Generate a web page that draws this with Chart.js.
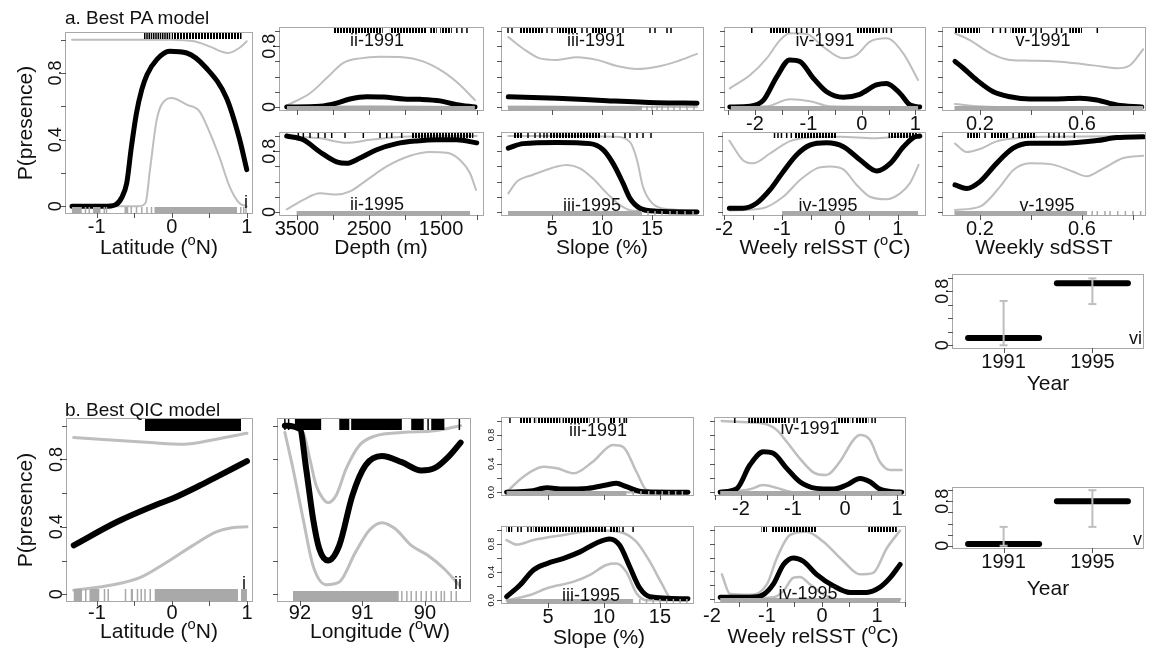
<!DOCTYPE html>
<html>
<head>
<meta charset="utf-8">
<script src="https://cdn.jsdelivr.net/npm/chart.js@4.4.1/dist/chart.umd.min.js"></script>
<style>
  body { margin: 0; background: #fff; }
  #page { position: relative; width: 1154px; height: 651px; overflow: hidden;
          font-family: "Liberation Sans", Arial, sans-serif; }
  canvas { position: absolute; }
  .txt { position: absolute; white-space: nowrap; color: #111; line-height: 1; }
  .sup { font-size: 0.7em; position: relative; top: -0.6em; }
</style>
</head>
<body>
<div id="page"></div>
<script>
// ---- axis ticks / labels ----
const latTicks = [-1, -0.5, 0, 0.5, 1];
const latLabels = [-1, 0, 1];
const depthTicks = [3500, 3000, 2500, 2000, 1500, 1000];
const depthLabels = [3500, 2500, 1500];
const slopeTicks = [5, 10, 15];
const slopeLabels = [5, 10, 15];
const relTicks = [-2.5, -2, -1.5, -1, -0.5, 0, 0.5, 1, 1.5];
const relLabels = [-2, -1, 0, 1];
const sdTicks = [0.2, 0.4, 0.6, 0.8];
const sdLabels = [0.2, 0.6];
const lonTicks = [92, 91, 90];
const lonLabels = [92, 91, 90];
const yearLabels = ['1991', '1995'];
const probTicks = [0, 0.2, 0.4, 0.6, 0.8, 1];
const probLabels = [0, 0.4, 0.8];
const probLabelsShort = [0, 0.8];

// ---- a. best PA model: [x, P(presence)] ----
const paLatFit = [[-1.33,0],[-0.9,0],[-0.75,0.01],[-0.67,0.05],[-0.6,0.14],[-0.54,0.35],[-0.47,0.56],[-0.4,0.7],[-0.33,0.79],[-0.2,0.88],[-0.03,0.93],[0.2,0.92],[0.46,0.83],[0.73,0.65],[0.9,0.41],[1.0,0.22]];
const paLatUpper = [[-1.33,1.0],[-0.5,1.0],[0.0,1.0],[0.3,0.99],[0.5,0.96],[0.75,0.92],[0.9,0.95],[1.0,0.99]];
const paLatLower = [[-1.33,0],[-0.45,0],[-0.35,0.02],[-0.29,0.22],[-0.2,0.52],[-0.08,0.64],[0.0,0.65],[0.2,0.61],[0.37,0.57],[0.5,0.45],[0.64,0.29],[0.77,0.12],[0.9,0.02],[1.0,0]];
const paLatRugTop = [-0.36,-0.33,-0.3,-0.27,-0.24,-0.21,-0.18,-0.15,-0.12,-0.09,-0.06,-0.03,[0.0,0.93]];
const paLatRugBottom = [[-1.33,-1.2],-1.15,-1.1,[-1.05,-0.95],-0.9,-0.87,[-0.63,-0.58],-0.54,-0.47,-0.4,-0.33,-0.27,[-0.23,0.87],0.92,0.96,0.99];

const paDepth91Fit = [[3643,0],[3180,0.01],[2950,0.05],[2764,0.105],[2532,0.135],[2300,0.13],[2020,0.105],[1790,0.1],[1514,0.08],[1282,0.03],[1028,0]];
const paDepth91Upper = [[3643,0.02],[3320,0.18],[3088,0.38],[2857,0.58],[2625,0.64],[2347,0.66],[2030,0.655],[1750,0.6],[1472,0.465],[1236,0.29],[1028,0.09]];
const paDepth91Lower = [[3643,0],[2500,0.01],[1028,0]];
const paDepth91RugTop = [[3000,2310],[2210,1700],[1650,1560],[1510,1350],1280,1210,1140];
const paDepth91RugBottom = [[3640,1030]];

const paDepth95Fit = [[3643,1.0],[3412,0.95],[3180,0.79],[2950,0.66],[2810,0.64],[2625,0.71],[2393,0.82],[2116,0.9],[1838,0.935],[1560,0.95],[1282,0.95],[1004,0.91]];
const paDepth95Upper = [[3643,1.0],[3180,0.97],[2810,0.91],[2486,0.95],[2030,0.99],[1500,1.0],[1004,1.0]];
const paDepth95Lower = [[3643,0.035],[3412,0.16],[3180,0.245],[2950,0.23],[2764,0.27],[2532,0.42],[2254,0.6],[1930,0.74],[1653,0.79],[1421,0.78],[1236,0.685],[1097,0.51],[1014,0.29]];
const paDepth95RugTop = [3482,3412,3319,3204,3111,3018,2833,2579,2347,2254,2185,2046,[1907,1051]];
const paDepth95RugBottom = [[3505,1097]];

const paSlope91Fit = [[0.63,0.135],[5.5,0.115],[10.5,0.083],[15.5,0.057],[19.5,0.05]];
const paSlope91Upper = [[0.63,0.92],[2.1,0.77],[3.8,0.64],[5.5,0.62],[7.5,0.655],[9.5,0.62],[11.5,0.54],[13.5,0.5],[15.5,0.53],[17.5,0.6],[19.5,0.7]];
const paSlope91Lower = [[0.63,0.005],[19.5,0]];
const paSlope91RugTop = [0.6,1.0,[1.8,4.1],4.5,5.0,[5.5,7.5],8.0,8.5,[9.0,10.5],11.0,11.6,12.1,14.8,15.3,16.5,16.9];
const paSlope91RugBottom = [[0.6,14.0],14.5,15.0,15.5,16.0,16.6,17.2,17.8,18.5,19.2];

const paSlope95Fit = [[0.63,0.84],[2.1,0.9],[5.5,0.915],[8.8,0.9],[10.1,0.82],[11.1,0.64],[12.1,0.38],[12.8,0.18],[13.8,0.05],[15.5,0.01],[19.5,0]];
const paSlope95Upper = [[0.63,1.0],[6.0,1.0],[11.3,0.99],[12.8,0.92],[13.5,0.685],[14.1,0.33],[15.1,0.105],[16.8,0.035],[19.5,0.02]];
const paSlope95Lower = [[0.63,0.245],[1.5,0.4],[3.1,0.49],[5.5,0.6],[6.5,0.62],[7.8,0.575],[9.1,0.44],[10.5,0.245],[11.8,0.09],[13.1,0.015],[19.5,0]];
const paSlope95RugTop = [[1.1,2.1],2.6,3.3,3.8,4.2,4.5,[4.8,9.8],10.3,11.1,12.3,12.8,13.5,14.1,14.9];
const paSlope95RugBottom = [[0.6,14.0],14.6,15.3,16.0,16.8,17.5,18.3,19.1];

const paRel91Fit = [[-2.47,0],[-2.09,0.01],[-1.84,0.09],[-1.59,0.4],[-1.35,0.62],[-1.16,0.6],[-0.91,0.38],[-0.66,0.2],[-0.35,0.128],[-0.04,0.167],[0.27,0.29],[0.46,0.31],[0.71,0.18],[0.9,0.026],[1.08,0]];
const paRel91Upper = [[-2.47,0.245],[-2.09,0.42],[-1.78,0.64],[-1.53,0.88],[-1.35,0.97],[-1.03,0.96],[-0.72,0.79],[-0.35,0.64],[-0.1,0.685],[0.15,0.86],[0.46,0.905],[0.77,0.71],[1.05,0.356]];
const paRel91Lower = [[-2.47,0],[-1.78,0.01],[-1.35,0.1],[-0.97,0.075],[-0.6,0.01],[1.08,0]];
const paRel91RugTop = [-2.06,[-1.72,-1.35],-1.22,-1.13,-1.03,-0.91,-0.8,[-0.1,0.34],0.4,0.46,0.55];
const paRel91RugBottom = [[-2.45,1.05]];

const paRel95Fit = [[-1.91,0.05],[-1.68,0.05],[-1.44,0.115],[-1.21,0.29],[-0.98,0.53],[-0.75,0.75],[-0.52,0.88],[-0.23,0.91],[0.06,0.86],[0.35,0.685],[0.64,0.54],[0.87,0.64],[1.1,0.86],[1.27,0.98],[1.38,1.0]];
const paRel95Upper = [[-1.91,0.94],[-1.68,0.685],[-1.5,0.64],[-1.21,0.77],[-0.87,0.93],[-0.52,0.98],[0.0,0.99],[0.6,0.97],[1.0,0.99],[1.38,1.0]];
const paRel95Lower = [[-1.91,0.02],[-1.33,0.05],[-0.98,0.2],[-0.69,0.42],[-0.4,0.575],[-0.17,0.6],[0.06,0.56],[0.29,0.356],[0.52,0.2],[0.81,0.167],[1.04,0.245],[1.21,0.38],[1.36,0.62]];
const paRel95RugTop = [-1.13,-1.07,-1.01,-0.92,-0.84,[-0.78,-0.06],[0.84,1.33]];
const paRel95RugBottom = [[-1.0,1.35]];

const paSd91Fit = [[0.102,0.6],[0.135,0.51],[0.187,0.355],[0.252,0.2],[0.318,0.135],[0.396,0.105],[0.5,0.105],[0.592,0.115],[0.658,0.092],[0.736,0.026],[0.834,0]];
const paSd91Upper = [[0.102,0.97],[0.16,0.88],[0.24,0.71],[0.318,0.62],[0.396,0.61],[0.5,0.6],[0.592,0.57],[0.684,0.53],[0.736,0.51],[0.788,0.55],[0.84,0.76]];
const paSd91Lower = [[0.102,0.04],[0.187,0.01],[0.3,0],[0.84,0]];
const paSd91RugTop = [[0.1,0.2],0.25,0.28,0.3,[0.32,0.38],0.4,0.42,0.44,0.5,0.52,[0.55,0.6],0.66];
const paSd91RugBottom = [[0.1,0.84]];

const paSd95Fit = [[0.102,0.356],[0.148,0.31],[0.2,0.4],[0.265,0.64],[0.33,0.84],[0.396,0.905],[0.527,0.905],[0.658,0.94],[0.736,0.98],[0.84,0.99]];
const paSd95Upper = [[0.102,0.9],[0.148,0.79],[0.2,0.83],[0.265,0.93],[0.34,0.97],[0.45,0.99],[0.84,1.0]];
const paSd95Lower = [[0.102,0.026],[0.2,0.07],[0.278,0.33],[0.33,0.55],[0.396,0.64],[0.475,0.63],[0.566,0.53],[0.618,0.47],[0.684,0.575],[0.762,0.71],[0.84,0.74]];
const paSd95RugTop = [[0.15,0.2],0.22,[0.24,0.31],0.33,[0.35,0.42],0.47,0.49,0.51,0.53,0.57];
const paSd95RugBottom = [[0.1,0.62],0.64,0.66,0.69,0.71,0.74,0.77,0.8,0.83];

const paYearFit = [0.107, 0.918];
const paYearLow = [0.0, 0.61];
const paYearHigh = [0.656, 0.99];

// ---- b. best QIC model ----
const qLatFit = [[-1.31,0.29],[-0.73,0.43],[-0.16,0.54],[0.0,0.567],[0.37,0.645],[0.59,0.695],[1.0,0.79]];
const qLatUpper = [[-1.31,0.93],[-0.29,0.9],[0.15,0.89],[0.59,0.92],[1.0,0.955]];
const qLatLower = [[-1.31,0.024],[-0.82,0.053],[-0.42,0.1],[-0.07,0.19],[0.28,0.29],[0.59,0.37],[0.8,0.395],[1.0,0.4]];
const qLatRugTop = [[-0.36,0.92]];
const qLatRugBottom = [[-1.31,-1.2],-1.15,[-1.1,-0.97],-0.9,-0.85,-0.62,[-0.55,-0.52],-0.46,-0.41,-0.36,-0.29,[-0.23,0.88],[0.92,1.0]];

const qLonFit = [[92.24,1.0],[92.0,0.98],[91.9,0.745],[91.79,0.45],[91.69,0.27],[91.55,0.2],[91.37,0.29],[91.16,0.587],[90.95,0.765],[90.69,0.82],[90.37,0.784],[90.06,0.735],[89.84,0.75],[89.63,0.814],[89.43,0.9]];
const qLonUpper = [[92.24,1.0],[91.95,0.96],[91.84,0.8],[91.74,0.645],[91.63,0.567],[91.55,0.543],[91.42,0.587],[91.26,0.745],[91.05,0.883],[90.79,0.94],[90.37,0.96],[89.84,0.97],[89.43,1.0]];
const qLonLower = [[92.24,0.96],[92.11,0.745],[91.95,0.45],[91.79,0.17],[91.58,0.057],[91.37,0.073],[91.11,0.25],[90.89,0.38],[90.69,0.425],[90.48,0.39],[90.22,0.29],[89.95,0.23],[89.69,0.15],[89.45,0.053]];
const qLonRugTop = [92.24,92.18,[92.08,91.66],[91.37,91.21],[91.18,90.37],[90.22,90.02],89.95,[89.9,89.69],89.45];
const qLonRugBottom = [[92.11,90.42],90.37,90.29,90.22,90.14,90.06,89.98,89.9,89.82,89.74,89.69,89.58,89.5];

const qSlope91Fit = [[1.3,0],[3.4,0.015],[4.9,0.06],[6.4,0.045],[8.5,0.053],[10.2,0.1],[11.1,0.125],[12.0,0.076],[13.5,0.006],[17.5,0]];
const qSlope91Upper = [[1.3,0],[2.8,0.216],[4.6,0.356],[5.8,0.334],[7.3,0.264],[9.0,0.427],[10.8,0.66],[11.7,0.636],[12.9,0.286],[13.8,0.03],[15.1,0],[17.5,0]];
const qSlope91Lower = [[1.3,0],[17.5,0]];
const qSlope91RugTop = [1.6,[2.5,3.5],3.8,[4.0,6.1],[6.3,8.7],9.1,9.5,[10.5,11.0],11.4,11.8,12.0];
const qSlope91RugBottom = [[1.3,12.0],12.6,13.3,14.0,14.6,15.2,15.8,16.4,17.0];

const qSlope95Fit = [[1.3,0.05],[2.5,0.216],[3.7,0.43],[4.9,0.52],[6.4,0.594],[7.9,0.69],[9.3,0.81],[10.5,0.87],[11.4,0.78],[12.3,0.475],[13.2,0.17],[14.1,0.05],[17.5,0.02]];
const qSlope95Upper = [[1.3,0.855],[2.2,0.79],[3.7,0.855],[6.4,0.926],[9.3,0.99],[11.4,0.97],[12.9,0.83],[14.1,0.547],[15.15,0.24],[16.0,0.03],[17.5,0.02]];
const qSlope95Lower = [[1.3,0],[3.4,0.074],[4.9,0.17],[7.3,0.263],[8.75,0.36],[10.2,0.5],[11.1,0.52],[12.0,0.4],[12.9,0.1],[13.8,0],[17.5,0]];
const qSlope95RugTop = [[1.3,1.8],2.3,2.6,3.2,3.5,[3.7,10.2],[10.5,11.4],11.7,12.6];
const qSlope95RugBottom = [[1.3,12.6],13.2,13.8,14.4,15.0,15.6,16.2,16.8,17.4];

const qRel91Fit = [[-2.4,0],[-2.08,0.05],[-1.83,0.38],[-1.57,0.566],[-1.38,0.545],[-1.12,0.334],[-0.87,0.146],[-0.55,0.053],[-0.22,0.043],[0.03,0.1],[0.29,0.193],[0.48,0.146],[0.67,0.043],[0.93,0.006],[1.09,0]];
const qRel91Upper = [[-2.37,0.997],[-1.83,0.98],[-1.5,0.95],[-1.31,0.87],[-1.12,0.707],[-0.87,0.474],[-0.61,0.278],[-0.36,0.24],[-0.1,0.426],[0.16,0.73],[0.29,0.8],[0.48,0.73],[0.67,0.426],[0.87,0.31],[1.09,0.31]];
const qRel91Lower = [[-2.4,0],[-1.83,0.04],[-1.57,0.1],[-1.31,0.06],[-1.0,0],[1.09,0]];
const qRel91RugTop = [-2.12,[-1.86,-1.12],-1.08,-0.98,-0.92,[-0.16,0.1],0.15,[0.2,0.45],0.52,0.58];
const qRel91RugBottom = [[-2.4,1.09]];

const qRel95Fit = [[-1.85,0.027],[-1.31,0.027],[-1.07,0.064],[-0.885,0.216],[-0.7,0.5],[-0.52,0.595],[-0.34,0.547],[-0.1,0.358],[0.21,0.192],[0.51,0.098],[0.81,0.098],[1.05,0.17],[1.24,0.31],[1.42,0.5]];
const qRel95Upper = [[-1.82,0.358],[-1.67,0.074],[-1.31,0.064],[-1.0,0.216],[-0.82,0.595],[-0.58,0.926],[-0.28,0.973],[0.02,0.83],[0.39,0.547],[0.69,0.358],[0.93,0.38],[1.18,0.737],[1.42,0.99]];
const qRel95Lower = [[-1.85,0],[-0.885,0.027],[-0.7,0.12],[-0.52,0.31],[-0.4,0.32],[-0.22,0.216],[0.02,0.07],[0.3,0],[1.42,0]];
const qRel95RugTop = [[-1.1,-1.0],[-0.92,-0.1],[0.84,1.36]];
const qRel95RugBottom = [[-1.85,1.42]];

const qYearFit = [0.03, 0.8];
const qYearLow = [0.0, 0.34];
const qYearHigh = [0.34, 1.0];

// ---- drawing ----
const GREY = '#bebebe';
const RUG_GREY = '#a9a9a9';
const FONT = '"Liberation Sans", Arial, sans-serif';
const BAR_HALF = 0.4;
const page = document.getElementById('page');

const pairs = arr => arr.map(v => [v, String(v)]);
const yearPairs = yearLabels.map((t, i) => [i + 1, t]);

// hatched fill for dense presence rugs
const hatchCanvas = document.createElement('canvas');
hatchCanvas.width = 3; hatchCanvas.height = 1;
hatchCanvas.getContext('2d').fillRect(0, 0, 2, 1);

function drawRug(ctx, scale, marks, edge, len, dir, color, hatch) {
  ctx.save();
  ctx.strokeStyle = color;
  ctx.fillStyle = hatch ? ctx.createPattern(hatchCanvas, 'repeat') : color;
  ctx.lineWidth = 1.5;
  marks.forEach(m => {
    if (Array.isArray(m)) {
      const x0 = scale.getPixelForValue(m[0]);
      const x1 = scale.getPixelForValue(m[1]);
      ctx.fillRect(Math.min(x0, x1), dir > 0 ? edge : edge - len, Math.abs(x1 - x0), len);
    } else {
      const px = scale.getPixelForValue(m);
      ctx.beginPath();
      ctx.moveTo(px, edge);
      ctx.lineTo(px, edge + dir * len);
      ctx.stroke();
    }
  });
  ctx.restore();
}

function panelPlugin(p) {
  return {
    id: 'rPanel',
    afterDatasetsDraw(chart) {
      if (!p.rug) return;
      const { ctx, chartArea: a, scales: { x } } = chart;
      drawRug(ctx, x, p.rug[0], a.top, p.rugLen[0], 1, '#000', p.hatch);
      drawRug(ctx, x, p.rug[1], a.bottom, p.rugLen[1], -1, RUG_GREY, false);
    },
    afterDraw(chart) {
      const { ctx, chartArea: a, scales: { x, y } } = chart;
      ctx.save();
      ctx.strokeStyle = '#a8a8a8';
      ctx.lineWidth = 1;
      ctx.strokeRect(a.left - 0.5, a.top - 0.5, a.right - a.left + 1, a.bottom - a.top + 1);

      ctx.strokeStyle = '#555';
      ctx.beginPath();
      p.xTicks.forEach(v => {
        const px = Math.round(x.getPixelForValue(v)) + 0.5;
        if (px < a.left - 1 || px > a.right + 1) return;
        ctx.moveTo(px, a.bottom);
        ctx.lineTo(px, a.bottom + 5);
      });
      probTicks.forEach(v => {
        const py = Math.round(y.getPixelForValue(v)) + 0.5;
        ctx.moveTo(a.left, py);
        ctx.lineTo(a.left - 5, py);
      });
      ctx.stroke();

      ctx.fillStyle = '#111';
      ctx.textAlign = 'center';
      ctx.textBaseline = 'middle';
      ctx.font = `20px ${FONT}`;
      (p.xLabels || []).forEach(([v, t]) => ctx.fillText(t, x.getPixelForValue(v), a.bottom + (p.xGap || 14)));

      ctx.font = `${p.yFont || 18}px ${FONT}`;
      ctx.textBaseline = 'alphabetic';
      (p.yLabels || []).forEach(([v, t]) => {
        ctx.save();
        ctx.translate(a.left - (p.yGap || 5), y.getPixelForValue(v));
        ctx.rotate(-Math.PI / 2);
        ctx.fillText(t, 0, 0);
        ctx.restore();
      });
      ctx.restore();
    }
  };
}

function lineSet(pts, color, width) {
  return {
    data: pts.map(([x, y]) => ({ x, y })),
    showLine: true, borderColor: color, borderWidth: width, pointRadius: 0,
    cubicInterpolationMode: 'monotone', borderCapStyle: 'round', borderJoinStyle: 'round', clip: false
  };
}

// first dataset is painted last, so the fitted curve goes first
function curveSets([fit, upper, lower], [wFit, wCi]) {
  return [lineSet(fit, '#000', wFit), lineSet(upper, GREY, wCi), lineSet(lower, GREY, wCi)];
}

function yearSets([fit, low, high]) {
  const errs = fit.map((v, i) => ({
    data: [{ x: i + 1, y: low[i] }, { x: i + 1, y: high[i] }],
    showLine: true, borderColor: GREY, borderWidth: 2,
    pointStyle: 'line', pointRadius: 4, pointBorderColor: GREY, pointBorderWidth: 2, clip: false
  }));
  const bars = fit.map((v, i) => ({
    data: [{ x: i + 1 - BAR_HALF, y: v }, { x: i + 1 + BAR_HALF, y: v }],
    showLine: true, borderColor: '#000', borderWidth: 6, borderCapStyle: 'round', pointRadius: 0, clip: false
  }));
  return errs.concat(bars);
}

function makePanel(p) {
  const [l, t, r, b] = p.box;
  const pad = { left: 60, top: 14, right: 14, bottom: 44 };
  const w = r - l + pad.left + pad.right;
  const h = b - t + pad.top + pad.bottom;
  const c = document.createElement('canvas');
  c.width = w; c.height = h;
  c.style.left = (l - pad.left) + 'px';
  c.style.top = (t - pad.top) + 'px';
  c.style.width = w + 'px';
  c.style.height = h + 'px';
  page.appendChild(c);
  new Chart(c, {
    type: 'scatter',
    data: { datasets: p.year ? yearSets(p.year) : curveSets(p.curves, p.widths) },
    options: {
      responsive: false,
      animation: false,
      events: [],
      layout: { padding: pad, autoPadding: false },
      plugins: { legend: { display: false }, tooltip: { enabled: false } },
      scales: {
        x: { type: 'linear', display: false, min: p.x[0], max: p.x[1], reverse: !!p.reverse },
        y: { type: 'linear', display: false, min: -0.04, max: 1.04 }
      }
    },
    plugins: [panelPlugin(p)]
  });
}

const panels = [
  { box: [66, 33, 252, 213], x: [-1.41, 1.07], xTicks: latTicks, xLabels: pairs(latLabels), yLabels: pairs(probLabels),
    curves: [paLatFit, paLatUpper, paLatLower], widths: [5, 2], rug: [paLatRugTop, paLatRugBottom], rugLen: [6, 6], hatch: true },
  { box: [280, 28, 483, 110], x: [917, 3736], reverse: true, xTicks: depthTicks, yLabels: pairs(probLabelsShort),
    curves: [paDepth91Fit, paDepth91Upper, paDepth91Lower], widths: [5, 2], rug: [paDepth91RugTop, paDepth91RugBottom], rugLen: [5, 4], hatch: true },
  { box: [280, 133, 483, 215], x: [917, 3736], reverse: true, xTicks: depthTicks, xLabels: pairs(depthLabels), yLabels: pairs(probLabelsShort),
    curves: [paDepth95Fit, paDepth95Upper, paDepth95Lower], widths: [5, 2], rug: [paDepth95RugTop, paDepth95RugBottom], rugLen: [5, 4], hatch: true },
  { box: [502, 28, 703, 110], x: [0, 20.1], xTicks: slopeTicks,
    curves: [paSlope91Fit, paSlope91Upper, paSlope91Lower], widths: [5, 2], rug: [paSlope91RugTop, paSlope91RugBottom], rugLen: [5, 4], hatch: true },
  { box: [502, 133, 703, 215], x: [0, 20.1], xTicks: slopeTicks, xLabels: pairs(slopeLabels),
    curves: [paSlope95Fit, paSlope95Upper, paSlope95Lower], widths: [5, 2], rug: [paSlope95RugTop, paSlope95RugBottom], rugLen: [5, 4], hatch: true },
  { box: [725, 28, 925, 110], x: [-2.56, 1.18], xTicks: relTicks, xLabels: pairs(relLabels),
    curves: [paRel91Fit, paRel91Upper, paRel91Lower], widths: [5, 2], rug: [paRel91RugTop, paRel91RugBottom], rugLen: [5, 4], hatch: true },
  { box: [723, 133, 925, 215], x: [-2.02, 1.47], xTicks: relTicks, xLabels: pairs(relLabels),
    curves: [paRel95Fit, paRel95Upper, paRel95Lower], widths: [5, 2], rug: [paRel95RugTop, paRel95RugBottom], rugLen: [5, 4], hatch: true },
  { box: [943, 28, 1145, 110], x: [0.055, 0.847], xTicks: sdTicks, xLabels: pairs(sdLabels),
    curves: [paSd91Fit, paSd91Upper, paSd91Lower], widths: [5, 2], rug: [paSd91RugTop, paSd91RugBottom], rugLen: [5, 4], hatch: true },
  { box: [943, 133, 1145, 215], x: [0.055, 0.847], xTicks: sdTicks, xLabels: pairs(sdLabels),
    curves: [paSd95Fit, paSd95Upper, paSd95Lower], widths: [5, 2], rug: [paSd95RugTop, paSd95RugBottom], rugLen: [5, 4], hatch: true },
  { box: [953, 275, 1143, 348], x: [0.43, 2.57], xTicks: [1, 2], xLabels: yearPairs, yLabels: pairs(probLabelsShort),
    year: [paYearFit, paYearLow, paYearHigh] },

  { box: [67, 419, 252, 601], x: [-1.4, 1.067], xTicks: latTicks, xLabels: pairs(latLabels), yLabels: pairs(probLabels), xGap: 12,
    curves: [qLatFit, qLatUpper, qLatLower], widths: [6, 3], rug: [qLatRugTop, qLatRugBottom], rugLen: [12, 12] },
  { box: [278, 419, 470, 601], x: [89.28, 92.35], reverse: true, xTicks: lonTicks, xLabels: pairs(lonLabels), xGap: 12,
    curves: [qLonFit, qLonUpper, qLonLower], widths: [6, 3], rug: [qLonRugTop, qLonRugBottom], rugLen: [11, 10] },
  { box: [502, 418, 693, 495], x: [0.89, 17.95], xTicks: slopeTicks, yLabels: probLabels.map(v => [v, v.toFixed(1)]), yFont: 9, yGap: 8,
    curves: [qSlope91Fit, qSlope91Upper, qSlope91Lower], widths: [5, 2.5], rug: [qSlope91RugTop, qSlope91RugBottom], rugLen: [5, 4], hatch: true },
  { box: [502, 527, 693, 603], x: [0.89, 17.95], xTicks: slopeTicks, xLabels: pairs(slopeLabels), yLabels: probLabels.map(v => [v, v.toFixed(1)]), yFont: 9, yGap: 8,
    curves: [qSlope95Fit, qSlope95Upper, qSlope95Lower], widths: [5, 2.5], rug: [qSlope95RugTop, qSlope95RugBottom], rugLen: [5, 4], hatch: true },
  { box: [715, 418, 905, 495], x: [-2.5, 1.154], xTicks: relTicks, xLabels: pairs(relLabels),
    curves: [qRel91Fit, qRel91Upper, qRel91Lower], widths: [5, 2.5], rug: [qRel91RugTop, qRel91RugBottom], rugLen: [5, 4], hatch: true },
  { box: [715, 527, 905, 602], x: [-1.945, 1.509], xTicks: relTicks, xLabels: pairs(relLabels),
    curves: [qRel95Fit, qRel95Upper, qRel95Lower], widths: [5, 2.5], rug: [qRel95RugTop, qRel95RugBottom], rugLen: [5, 4], hatch: true },
  { box: [953, 488, 1143, 548], x: [0.43, 2.57], xTicks: [1, 2], xLabels: yearPairs, yLabels: pairs(probLabelsShort),
    year: [qYearFit, qYearLow, qYearHigh] }
];

panels.forEach(makePanel);

// ---- titles, axis titles and panel tags ----
function label(html, x, y, size, align = 'center', rotate = 0) {
  const d = document.createElement('div');
  d.className = 'txt';
  d.innerHTML = html;
  d.style.left = x + 'px';
  d.style.top = y + 'px';
  d.style.fontSize = size + 'px';
  const tx = align === 'left' ? '0' : align === 'right' ? '-100%' : '-50%';
  d.style.transform = `translate(${tx}, -50%)` + (rotate ? ` rotate(${rotate}deg)` : '');
  page.appendChild(d);
}
const deg = '<span class="sup">o</span>';

label('a. Best PA model', 65, 17, 19, 'left');
label('b. Best QIC model', 65, 409, 19, 'left');
label('P(presence)', 24, 123, 21, 'center', -90);
label('P(presence)', 24, 510, 21, 'center', -90);

label(`Latitude (${deg}N)`, 159, 246, 21);
label('Depth (m)', 381, 246, 21);
label('Slope (%)', 602, 246, 21);
label(`Weely relSST (${deg}C)`, 825, 246, 21);
label('Weekly sdSST', 1044, 246, 21);
label('Year', 1048, 382, 21);

label(`Latitude (${deg}N)`, 159, 630, 21);
label(`Longitude (${deg}W)`, 380, 630, 21);
label('Slope (%)', 599, 636, 21);
label(`Weely relSST (${deg}C)`, 813, 635, 21);
label('Year', 1048, 587, 21);

label('i', 246, 202, 18);
label('ii-1991', 377, 40, 18);
label('ii-1995', 377, 204, 18);
label('iii-1991', 596, 40, 18);
label('iii-1995', 592, 205, 18);
label('iv-1991', 825, 40, 18);
label('iv-1995', 828, 205, 18);
label('v-1991', 1043, 40, 18);
label('v-1995', 1047, 205, 18);
label('vi', 1142, 338, 18, 'right');

label('i', 244, 583, 18);
label('ii', 458, 583, 18);
label('iii-1991', 598, 430, 18);
label('iii-1995', 591, 595, 18);
label('iv-1991', 810, 428, 18);
label('iv-1995', 808, 593, 18);
label('v', 1142, 539, 18, 'right');
</script>
</body>
</html>
